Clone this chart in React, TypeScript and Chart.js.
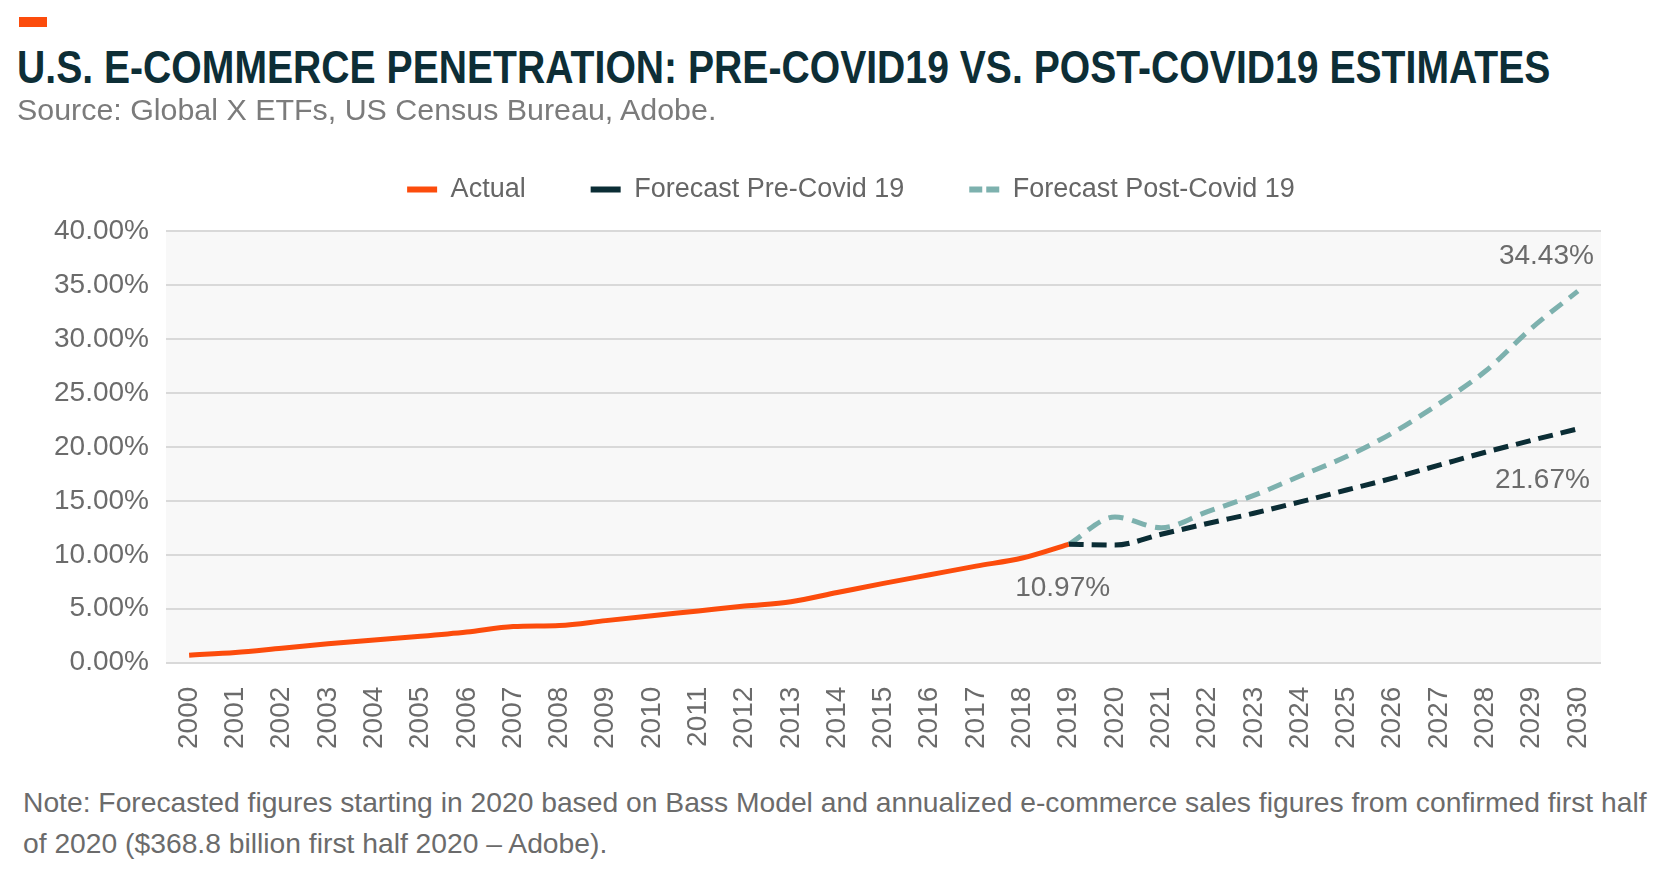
import React, { useEffect, useRef } from 'react';
import { Chart, registerables } from 'chart.js';

Chart.register(...registerables);

const years = [
  '2000', '2001', '2002', '2003', '2004', '2005', '2006', '2007', '2008', '2009',
  '2010', '2011', '2012', '2013', '2014', '2015', '2016', '2017', '2018', '2019',
  '2020', '2021', '2022', '2023', '2024', '2025', '2026', '2027', '2028', '2029', '2030',
];

const actual = [
  0.7, 0.95, 1.35, 1.75, 2.1, 2.45, 2.85, 3.35, 3.45, 3.9,
  4.35, 4.8, 5.25, 5.65, 6.5, 7.35, 8.15, 8.95, 9.7, 10.97,
  null, null, null, null, null, null, null, null, null, null, null,
];

const forecastPre = [
  null, null, null, null, null, null, null, null, null, null,
  null, null, null, null, null, null, null, null, null, 10.97,
  10.9, 11.9, 12.9, 13.85, 14.9, 16.0, 17.1, 18.3, 19.5, 20.6, 21.67,
];

const forecastPost = [
  null, null, null, null, null, null, null, null, null, null,
  null, null, null, null, null, null, null, null, null, 10.97,
  13.5, 12.5, 14.0, 15.5, 17.3, 19.1, 21.3, 24.0, 27.0, 31.0, 34.43,
];

const seriesNames = ['Actual', 'Forecast Pre-Covid 19', 'Forecast Post-Covid 19'];
const seriesColors = ['#fc4c0c', '#0b2d35', '#7db1ae'];

const yMin = 0;
const yMax = 40;
const yStep = 5;

const titleText = 'U.S. E-COMMERCE PENETRATION: PRE-COVID19 VS. POST-COVID19 ESTIMATES';
const sourceText = 'Source: Global X ETFs, US Census Bureau, Adobe.';
const noteLine1 =
  'Note: Forecasted figures starting in 2020 based on Bass Model and annualized e-commerce sales figures from confirmed first half';
const noteLine2 = 'of 2020 ($368.8 billion first half 2020 \u2013 Adobe).';

// callouts: which dataset/point gets a value label
const callouts = [
  { dataset: 0, index: 19 },
  { dataset: 1, index: 30 },
  { dataset: 2, index: 30 },
];

const FONT = '"Liberation Sans", Arial, sans-serif';

export default function App() {
  const canvasRef = useRef<HTMLCanvasElement>(null);

  useEffect(() => {
    const canvas = canvasRef.current;
    if (!canvas) return;

    const plotBg = {
      id: 'plotBg',
      beforeDraw(chart: any) {
        const { ctx, chartArea } = chart;
        ctx.save();
        ctx.fillStyle = '#f8f8f8';
        ctx.fillRect(chartArea.left, chartArea.top, chartArea.right - chartArea.left, chartArea.bottom - chartArea.top);
        ctx.restore();
      },
    };

    const legendSpacer = {
      id: 'legendSpacer',
      beforeInit(chart: any) {
        const legend = chart.legend;
        if (!legend) return;
        const origFit = legend.fit;
        legend.fit = function () {
          origFit.call(this);
          this.height += 14;
        };
      },
      afterLayout(chart: any) {
        const legend = chart.legend;
        if (!legend) return;
        legend.left += 32;
        legend.right += 32;
        legend.top -= 4;
        legend.bottom -= 4;
      },
    };

    const valueLabels = {
      id: 'valueLabels',
      afterDatasetsDraw(chart: any) {
        const { ctx } = chart;
        ctx.save();
        ctx.font = `28px ${FONT}`;
        ctx.fillStyle = '#6b6b6b';
        ctx.textBaseline = 'middle';
        callouts.forEach((c) => {
          const meta = chart.getDatasetMeta(c.dataset);
          const pt = meta.data[c.index];
          const v = chart.data.datasets[c.dataset].data[c.index] as number;
          const text = v.toFixed(2) + '%';
          let x = pt.x;
          let y = pt.y;
          if (c.dataset === 0) {
            ctx.textAlign = 'center';
            x -= 6;
            y += 44;
          } else if (c.dataset === 1) {
            ctx.textAlign = 'right';
            x += 12;
            y += 51;
          } else {
            ctx.textAlign = 'right';
            x += 16;
            y -= 35;
          }
          ctx.fillText(text, x, y);
        });
        ctx.restore();
      },
    };

    const datasets = [actual, forecastPre, forecastPost].map((d, i) => ({
      label: seriesNames[i],
      data: d,
      borderColor: seriesColors[i],
      backgroundColor: seriesColors[i],
      borderWidth: 5,
      borderDash: i === 0 ? [] : i === 1 ? [15, 8] : [15, 9],
      borderCapStyle: 'butt' as const,
      pointRadius: 0,
      pointHoverRadius: 0,
      fill: false,
      spanGaps: false,
      cubicInterpolationMode: 'monotone' as const,
    }));

    const chart = new Chart(canvas, {
      type: 'line',
      data: { labels: years, datasets },
      options: {
        animation: false,
        responsive: false,
        layout: { padding: { left: 37, right: 67, top: 0, bottom: 2 } },
        plugins: {
          tooltip: { enabled: false },
          legend: {
            display: true,
            position: 'top',
            labels: {
              usePointStyle: true,
              pointStyleWidth: 30,
              padding: 65,
              color: '#666666',
              font: { family: FONT, size: 27 },
              generateLabels: (ch: any) =>
                ch.data.datasets.map((ds: any, i: number) => ({
                  text: ds.label,
                  fillStyle: ds.borderColor,
                  strokeStyle: ds.borderColor,
                  lineWidth: 6,
                  lineDash: i === 2 ? [13, 4] : [],
                  lineCap: 'butt',
                  pointStyle: 'line',
                  hidden: false,
                  datasetIndex: i,
                  fontColor: '#666666',
                })),
            },
          },
        },
        scales: {
          x: {
            offset: true,
            grid: { display: false, drawTicks: false },
            border: { display: false },
            ticks: {
              autoSkip: false,
              minRotation: 90,
              maxRotation: 90,
              padding: 24,
              color: '#6b6b6b',
              font: { family: FONT, size: 28 },
            },
          },
          y: {
            min: yMin,
            max: yMax,
            grid: { color: '#d9d9d9', lineWidth: 2, drawTicks: false },
            border: { display: false },
            ticks: {
              stepSize: yStep,
              padding: 17,
              color: '#6b6b6b',
              font: { family: FONT, size: 28 },
              callback: (v: any) => Number(v).toFixed(2) + '%',
            },
          },
        },
      },
      plugins: [plotBg, legendSpacer, valueLabels],
    });

    return () => chart.destroy();
  }, []);

  return (
    <div
      style={{
        position: 'absolute',
        left: 0,
        top: 0,
        width: 1668,
        height: 874,
        background: '#ffffff',
        overflow: 'hidden',
        fontFamily: FONT,
      }}
    >
      <div style={{ position: 'absolute', left: 0, top: 115, width: 1668, height: 660 }}>
        <canvas ref={canvasRef} width={1668} height={660} style={{ display: 'block' }} />
      </div>
      <div style={{ position: 'absolute', left: 19, top: 17, width: 28, height: 10, background: '#fc4c0c' }} />
      <div
        style={{
          position: 'absolute',
          left: 17,
          top: 43,
          fontFamily: FONT,
          fontWeight: 700,
          fontSize: 47,
          lineHeight: '47px',
          color: '#0d2e36',
          whiteSpace: 'nowrap',
          transform: 'scaleX(0.8325)',
          transformOrigin: '0 0',
        }}
      >
        {titleText}
      </div>
      <div
        style={{
          position: 'absolute',
          left: 17,
          top: 94,
          fontSize: 30.4,
          lineHeight: '30px',
          color: '#7b7b7b',
          whiteSpace: 'nowrap',
        }}
      >
        {sourceText}
      </div>
      <div
        style={{
          position: 'absolute',
          left: 23,
          top: 782,
          fontSize: 28.25,
          lineHeight: '41px',
          color: '#6b6b6b',
          whiteSpace: 'nowrap',
        }}
      >
        {noteLine1}
        <br />
        {noteLine2}
      </div>
    </div>
  );
}
